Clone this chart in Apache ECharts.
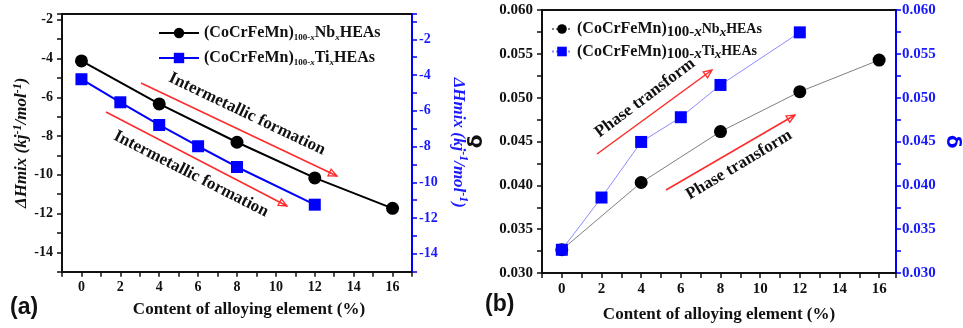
<!DOCTYPE html>
<html>
<head>
<meta charset="utf-8">
<script src="https://cdn.jsdelivr.net/npm/echarts@6/dist/echarts.min.js"></script>
<style>
html,body{margin:0;padding:0;background:#fff;}
#c{width:963px;height:328px;}
</style>
</head>
<body>
<div id="c"></div>
<script>
// ---- data ----
const nbContent = [0, 4, 8, 12, 16];
const tiContent = [0, 2, 4, 6, 8, 12];
const nbDeltaH = [-4.12, -6.34, -8.32, -10.16, -11.73];
const tiDeltaH = [-4.23, -5.52, -6.79, -7.98, -9.14, -11.25];
const nbDelta = [0.03265, 0.04032, 0.04613, 0.05068, 0.05429];
const tiDelta = [0.03265, 0.03861, 0.04495, 0.04777, 0.05145, 0.05745];
const xTitle = 'Content of alloying element (%)';
const annotA = 'Intermetallic formation';
const annotB = 'Phase transform';

const zip = (xs, ys) => xs.map((x, i) => [x, ys[i]]);
const SERIF = "'Liberation Serif','Times New Roman',serif";
const BLK = '#111';
const BLU = '#0000ff';

const chart = echarts.init(document.getElementById('c'), null, {renderer: 'canvas'});

const evenX = v => (Math.abs(v - Math.round(v)) < 1e-9 && Math.round(v) % 2 === 0 && v >= 0) ? String(Math.round(v)) : '';
const evenY = v => (Math.abs(v - Math.round(v)) < 1e-9 && Math.round(v) % 2 === 0) ? String(Math.round(v)) : '';
const deltaLbl = v => { const k = Math.round(v * 10000); return (Math.abs(v * 10000 - k) < 1e-6 && k % 50 === 0) ? v.toFixed(3) : ''; };

function xBottom(grid, max, fs, gap, pad) {
  return {
    type: 'value', gridIndex: grid, position: 'bottom', min: -1, max: max, interval: 1,
    axisLine: {show: true, onZero: false, lineStyle: {color: BLK, width: 2}},
    axisTick: {show: true, inside: false, length: 5, lineStyle: {color: BLK, width: 1.5}},
    axisLabel: {formatter: evenX, color: BLK, fontFamily: SERIF, fontWeight: 'bold', fontSize: fs, margin: 9, showMaxLabel: true, showMinLabel: true},
    splitLine: {show: false},
    name: xTitle, nameLocation: 'middle', nameGap: gap,
    nameTextStyle: {fontFamily: SERIF, fontWeight: 'bold', fontSize: 17, color: BLK, padding: pad}
  };
}
function xTop(grid, max) {
  return {
    type: 'value', gridIndex: grid, position: 'top', min: -1, max: max,
    axisLine: {show: true, onZero: false, lineStyle: {color: BLK, width: 2}},
    axisTick: {show: false}, axisLabel: {show: false}, splitLine: {show: false}
  };
}
const supRich = (color) => ({
  a: {fontFamily: SERIF, fontStyle: 'italic', fontWeight: 'bold', fontSize: 17, color: color},
  s: {fontFamily: SERIF, fontStyle: 'italic', fontWeight: 'bold', fontSize: 12, color: color, padding: [0, 0, 9, 0]}
});
const dhName = '{a|ΔHmix (kj}{s|-1}{a|/mol}{s|-1}{a|)}';

function arrow(x1, y1, x2, y2) {
  const ang = Math.atan2(y2 - y1, x2 - x1);
  const L = 9, w = 0.42;
  const p1 = [x2 - L * Math.cos(ang - w), y2 - L * Math.sin(ang - w)];
  const p2 = [x2 - L * Math.cos(ang + w), y2 - L * Math.sin(ang + w)];
  return [
    {type: 'line', shape: {x1: x1, y1: y1, x2: x2, y2: y2}, style: {stroke: '#ff2a2a', lineWidth: 1.5}, z: 50},
    {type: 'polygon', shape: {points: [p1, [x2, y2], p2]}, style: {stroke: '#ff2a2a', fill: 'none', lineWidth: 1.3}, z: 50}
  ];
}
// deg > 0 : text runs down to the right; deg < 0 : text runs up to the right
function rtext(txt, cx, cy, deg) {
  return {type: 'text', x: cx, y: cy, rotation: -deg * Math.PI / 180, z: 51,
    style: {text: txt, fontFamily: SERIF, fontWeight: 'bold', fontSize: 17, fill: BLK, align: 'center', verticalAlign: 'middle'}};
}

const legendRichA = {
  n: {fontFamily: SERIF, fontWeight: 'bold', fontSize: 16, color: BLK, lineHeight: 20},
  s: {fontFamily: SERIF, fontWeight: 'bold', fontSize: 9, color: BLK, padding: [9, 0, 0, 0]},
  si: {fontFamily: SERIF, fontWeight: 'bold', fontStyle: 'italic', fontSize: 9, color: BLK, padding: [9, 0, 0, 0]}
};
const legendRichB = {
  n: {fontFamily: SERIF, fontWeight: 'bold', fontSize: 16, color: BLK, lineHeight: 18},
  d: {fontFamily: SERIF, fontWeight: 'bold', fontSize: 15, color: BLK, padding: [6, 0, 0, 0]},
  di: {fontFamily: SERIF, fontWeight: 'bold', fontStyle: 'italic', fontSize: 15, color: BLK, padding: [6, 0, 0, 0]},
  m: {fontFamily: SERIF, fontWeight: 'bold', fontSize: 14, color: BLK},
  xi: {fontFamily: SERIF, fontWeight: 'bold', fontStyle: 'italic', fontSize: 13, color: BLK, padding: [7, 0, 0, 0]}
};
const legendText = {
  'NbA': '{n|(CoCrFeMn)}{s|100-}{si|x}{n|Nb}{si|x}{n|HEAs}',
  'TiA': '{n|(CoCrFeMn)}{s|100-}{si|x}{n|Ti}{si|x}{n|HEAs}',
  'NbB': '{n|(CoCrFeMn)}{d|100-}{di|x}{m|Nb}{xi|x}{m|HEAs}',
  'TiB': '{n|(CoCrFeMn)}{d|100-}{di|x}{m|Ti}{xi|x}{m|HEAs}'
};

const option = {
  animation: false,
  backgroundColor: '#fff',
  grid: [
    {left: 62, top: 14, width: 350, height: 257.7},
    {left: 542, top: 10, width: 357, height: 263.3}
  ],
  xAxis: [
    xBottom(0, 17, 14, 29, [0, 0, 0, 24]),
    xTop(0, 17),
    xBottom(1, 16.85, 15, 33, [0, 0, 0, 0]),
    xTop(1, 16.85)
  ],
  yAxis: [
    {type: 'value', gridIndex: 0, position: 'left', min: -15, max: -1.7, interval: 1,
      axisLine: {show: true, onZero: false, lineStyle: {color: BLK, width: 2}},
      axisTick: {show: true, length: 5, lineStyle: {color: BLK, width: 1.5}},
      axisLabel: {formatter: evenY, color: BLK, fontFamily: SERIF, fontWeight: 'bold', fontSize: 14, margin: 9},
      splitLine: {show: false},
      name: dhName, nameLocation: 'middle', nameRotate: 90, nameGap: 26,
      nameTextStyle: {rich: supRich(BLK)}},
    {type: 'value', gridIndex: 0, position: 'right', min: -15, max: -0.58, interval: 1,
      axisLine: {show: true, onZero: false, lineStyle: {color: BLU, width: 2}},
      axisTick: {show: true, length: 5, lineStyle: {color: BLU, width: 1.5}},
      axisLabel: {formatter: evenY, color: '#1a1aff', fontFamily: SERIF, fontWeight: 'bold', fontSize: 14, margin: 7},
      splitLine: {show: false},
      name: dhName, nameLocation: 'middle', nameRotate: -90, nameGap: 36,
      nameTextStyle: {rich: supRich('#1a1aff')}},
    {type: 'value', gridIndex: 1, position: 'left', min: 0.03, max: 0.06, interval: 0.0025,
      axisLine: {show: true, onZero: false, lineStyle: {color: BLK, width: 2}},
      axisTick: {show: true, length: 5, lineStyle: {color: BLK, width: 1.5}},
      axisLabel: {formatter: deltaLbl, color: BLK, fontFamily: SERIF, fontWeight: 'bold', fontSize: 15, margin: 9},
      splitLine: {show: false},
      name: 'δ', nameLocation: 'middle', nameRotate: 90, nameGap: 55,
      nameTextStyle: {fontFamily: "'DejaVu Sans',sans-serif", fontWeight: 'bold', fontSize: 20, color: BLK}},
    {type: 'value', gridIndex: 1, position: 'right', min: 0.03, max: 0.06, interval: 0.0025,
      axisLine: {show: true, onZero: false, lineStyle: {color: BLU, width: 2}},
      axisTick: {show: true, length: 5, lineStyle: {color: BLU, width: 1.5}},
      axisLabel: {formatter: deltaLbl, color: '#1a1aff', fontFamily: SERIF, fontWeight: 'bold', fontSize: 15, margin: 6},
      splitLine: {show: false},
      name: 'δ', nameLocation: 'middle', nameRotate: -90, nameGap: 46,
      nameTextStyle: {fontFamily: "'DejaVu Sans',sans-serif", fontWeight: 'bold', fontSize: 20, color: BLU}}
  ],
  legend: [
    {orient: 'vertical', left: 153, top: 20, itemWidth: 40, itemHeight: 13, itemGap: 8,
      data: ['NbA', 'TiA'], formatter: n => legendText[n], textStyle: {rich: legendRichA}, selectedMode: false},
    {orient: 'vertical', left: 546, top: 16, itemWidth: 20, itemHeight: 12, itemGap: 4,
      data: ['NbB', 'TiB'], formatter: n => legendText[n], textStyle: {rich: legendRichB}, selectedMode: false,
      lineStyle: {type: [2, 2]}}
  ],
  series: [
    {name: 'NbA', type: 'line', xAxisIndex: 0, yAxisIndex: 0, data: zip(nbContent, nbDeltaH),
      symbol: 'circle', symbolSize: 13, lineStyle: {color: '#000', width: 2}, itemStyle: {color: '#000'}, z: 3},
    {name: 'TiA', type: 'line', xAxisIndex: 0, yAxisIndex: 1, data: zip(tiContent, tiDeltaH),
      symbol: 'rect', symbolSize: 12, lineStyle: {color: BLU, width: 2}, itemStyle: {color: BLU}, z: 3},
    {name: 'NbB', type: 'line', xAxisIndex: 2, yAxisIndex: 2, data: zip(nbContent, nbDelta),
      symbol: 'circle', symbolSize: 13, lineStyle: {color: '#808080', width: 1}, itemStyle: {color: '#000'}, z: 3},
    {name: 'TiB', type: 'line', xAxisIndex: 2, yAxisIndex: 3, data: zip(tiContent, tiDelta),
      symbol: 'rect', symbolSize: 12, lineStyle: {color: '#8c8cff', width: 1}, itemStyle: {color: BLU}, z: 4}
  ],
  graphic: [].concat(
    arrow(141, 83, 337, 176),
    arrow(106, 112, 287, 206),
    arrow(597, 154, 712, 70),
    arrow(666, 190, 795, 115),
    [
      rtext(annotA, 247, 114, 25.5),
      rtext(annotA, 191, 174, 27),
      rtext(annotB, 645, 98, -37),
      rtext(annotB, 739, 165, -31),
      {type: 'text', left: 10, top: 296, z: 60,
        style: {text: '(a)', fontFamily: "'Liberation Sans',Arial,sans-serif", fontWeight: 'bold', fontSize: 23, fill: '#111'}},
      {type: 'text', left: 485, top: 293, z: 60,
        style: {text: '(b)', fontFamily: "'Liberation Sans',Arial,sans-serif", fontWeight: 'bold', fontSize: 23, fill: '#111'}}
    ]
  )
};
chart.setOption(option);
</script>
</body>
</html>
